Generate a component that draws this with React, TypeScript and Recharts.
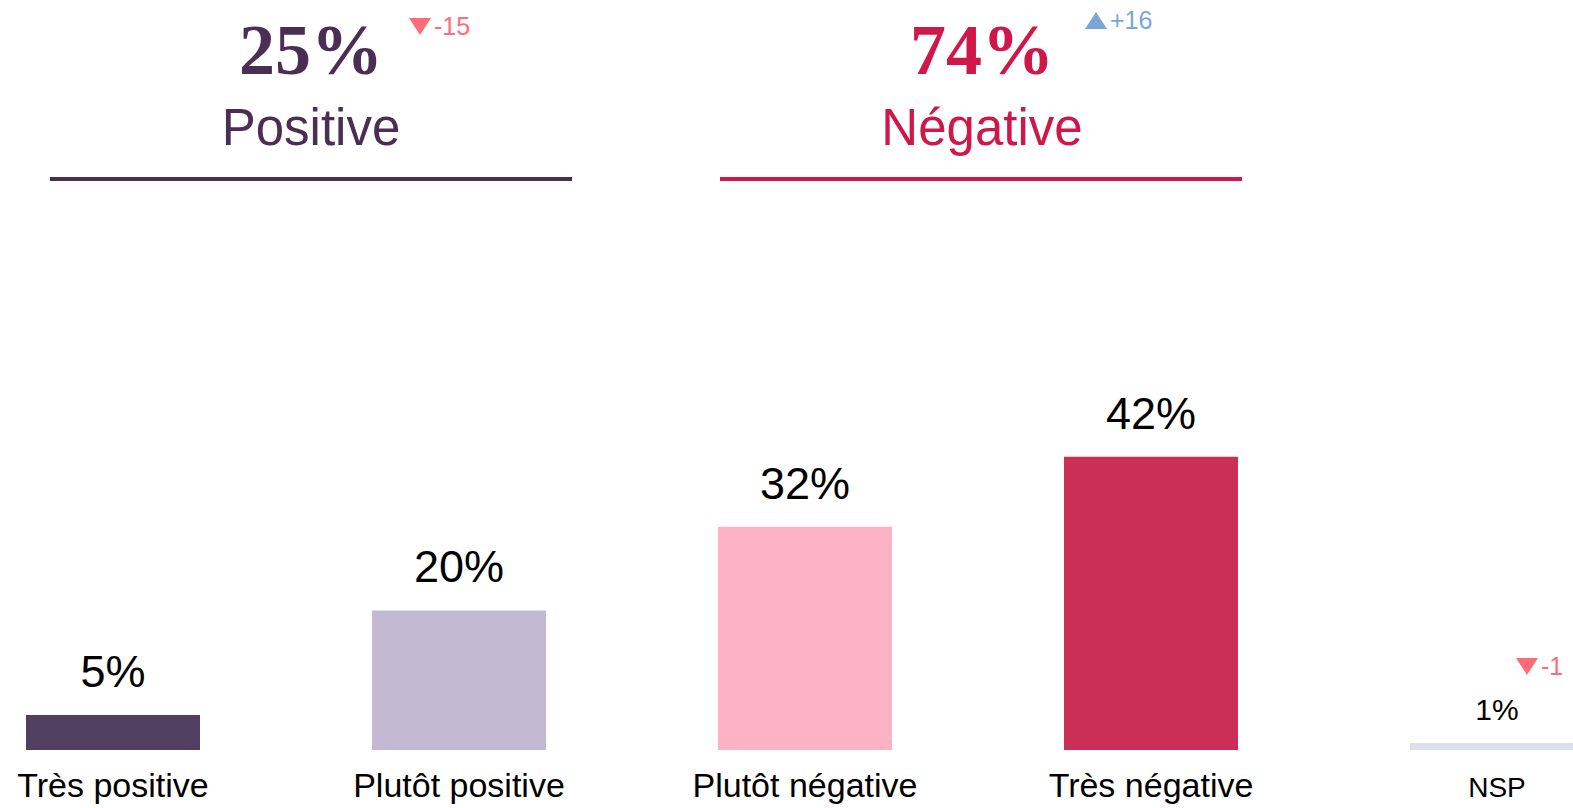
import React from 'react';
import { BarChart, Bar, XAxis, YAxis, Cell, LabelList } from 'recharts';

const categories = ['Très positive', 'Plutôt positive', 'Plutôt négative', 'Très négative', 'NSP'];
const shares = [5, 20, 32, 42, 1];
const groupNames = ['Positive', 'Négative'];
const groupTotals = [25, 74];
const groupDeltas = [-15, 16];
const nspDelta = -1;

const barColors = ['#513f61', '#c3b9d2', '#fdb3c5', '#cb2e57', '#dde0ec'];
const groupColors = ['#4b2e54', '#d0174a'];
const DOWN = '#ff6b78';
const UP = '#7ba7d7';
const SANS = '"Liberation Sans", Arial, sans-serif';
const SERIF = '"Liberation Serif", "Times New Roman", serif';

const data = categories.map((c, i) => ({ category: c, share: shares[i] }));

const ValueLabel = (props: any) => {
  const { x, y, width, value, index } = props;
  const small = index === categories.length - 1;
  return (
    <text x={x + width / 2} y={y - (small ? 23 : 28)} textAnchor="middle" fill="#000"
      style={{ fontFamily: SANS, fontSize: small ? 30 : 45 }}>
      {value}%
    </text>
  );
};

const CategoryLabel = (props: any) => {
  const { x, y, width, height, index } = props;
  const small = index === categories.length - 1;
  return (
    <text x={x + width / 2} y={y + height + 47} textAnchor="middle" fill="#000"
      style={{ fontFamily: SANS, fontSize: small ? 28 : 34 }}>
      {categories[index]}
    </text>
  );
};

function Delta({ x, y, value }: { x: number; y: number; value: number }) {
  const up = value > 0;
  const color = up ? UP : DOWN;
  const tri = up
    ? `M${x},${y} L${x + 11},${y - 17} L${x + 22},${y} Z`
    : `M${x},${y - 17} L${x + 22},${y - 17} L${x + 11},${y} Z`;
  return (
    <g>
      <path d={tri} fill={color} />
      <text x={x + 25} y={y} fill={color} style={{ fontFamily: SANS, fontSize: 25 }}>
        {up ? `+${value}` : `-${Math.abs(value)}`}
      </text>
    </g>
  );
}

// header layout: centre of each group, underline span, delta position
const headerLayout = [
  { cx: 311, x1: 50, x2: 572, dx: 409, dy: 35 },
  { cx: 982, x1: 720, x2: 1242, dx: 1085, dy: 29 },
];

export default function App() {
  return (
    <div style={{ position: 'fixed', left: 0, top: 0, width: 1573, height: 808, overflow: 'hidden', background: '#fff' }}>
      <div style={{ position: 'absolute', left: -60, top: 0 }}>
        <BarChart width={1730} height={808} data={data} margin={{ top: 401, right: 0, bottom: 58, left: 0 }}>
          <XAxis dataKey="category" hide />
          <YAxis hide type="number" domain={[0, 50]} />
          <Bar dataKey="share" barSize={174} isAnimationActive={false}>
            {data.map((d, i) => (
              <Cell key={d.category} fill={barColors[i]} />
            ))}
            <LabelList dataKey="share" content={ValueLabel} />
            <LabelList dataKey="category" content={CategoryLabel} />
          </Bar>
        </BarChart>
      </div>
      <svg width={1573} height={808} style={{ position: 'absolute', left: 0, top: 0, pointerEvents: 'none' }}>
        {headerLayout.map((h, i) => (
          <g key={groupNames[i]}>
            <text x={h.cx} y={74} textAnchor="middle" fill={groupColors[i]}
              style={{ fontFamily: SERIF, fontSize: 72, fontWeight: 700 }}>
              {groupTotals[i]}%
            </text>
            <Delta x={h.dx} y={h.dy} value={groupDeltas[i]} />
            <text x={h.cx} y={145} textAnchor="middle" fill={groupColors[i]}
              style={{ fontFamily: SANS, fontSize: 51 }}>
              {groupNames[i]}
            </text>
            <line x1={h.x1} x2={h.x2} y1={179} y2={179} stroke={groupColors[i]} strokeWidth={4} />
          </g>
        ))}
        <Delta x={1516} y={675} value={nspDelta} />
      </svg>
    </div>
  );
}
